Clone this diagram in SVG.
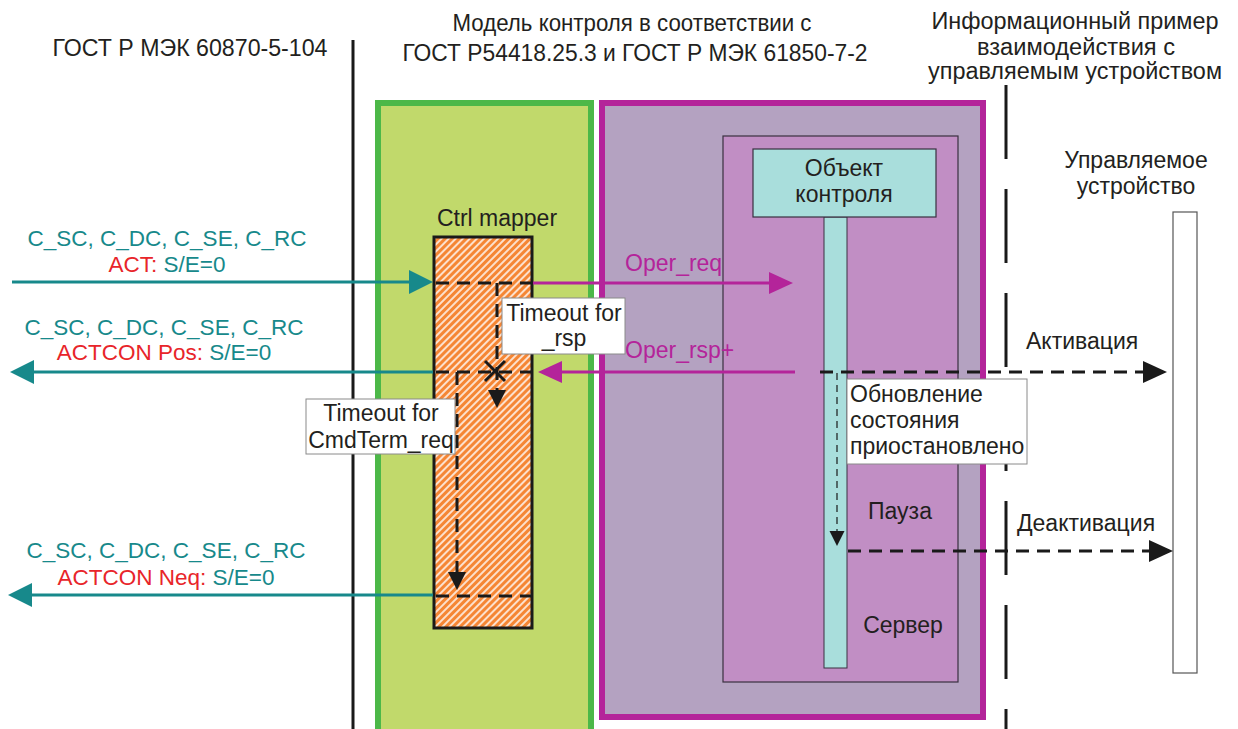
<svg xmlns="http://www.w3.org/2000/svg" width="1238" height="729" viewBox="0 0 1238 729">
<style>
text{font-family:"Liberation Sans",Arial,sans-serif;fill:#231f20}
.hdr{font-size:23px}
.lbl{font-size:23px}
.teal{fill:#17898b;font-size:22.5px}
.red{fill:#e8252a}
.mag{fill:#b4249a;font-size:23px}
.tl{stroke:#17898b;stroke-width:3;fill:none}
.ml{stroke:#b4249a;stroke-width:3;fill:none}
.dl{stroke:#1a1a1a;stroke-width:3;fill:none;stroke-dasharray:13 8}
.note{fill:#fff;stroke:#8a8a8a;stroke-width:1}
</style>
<defs>
<pattern id="hatch" width="5" height="5" patternUnits="userSpaceOnUse" patternTransform="rotate(45)">
<rect width="5" height="5" fill="#f58634"/>
<line x1="1" y1="0" x2="1" y2="5" stroke="#fff" stroke-width="1.5"/>
</pattern>
<marker id="aTeal" markerUnits="userSpaceOnUse" markerWidth="26" markerHeight="26" refX="20" refY="12" orient="auto"><path d="M0,0 L24,12 L0,24 z" fill="#17898b"/></marker>
<marker id="aMag" markerUnits="userSpaceOnUse" markerWidth="26" markerHeight="24" refX="20" refY="11" orient="auto"><path d="M0,0 L24,11 L0,22 z" fill="#b4249a"/></marker>
<marker id="aBlk" markerUnits="userSpaceOnUse" markerWidth="26" markerHeight="24" refX="20" refY="11" orient="auto"><path d="M0,0 L24,11 L0,22 z" fill="#1a1a1a"/></marker>
<marker id="aBlkS" markerUnits="userSpaceOnUse" markerWidth="20" markerHeight="20" refX="14" refY="9" orient="auto"><path d="M0,0 L18,9 L0,18 z" fill="#1a1a1a"/></marker>
<marker id="aBlkT" markerUnits="userSpaceOnUse" markerWidth="18" markerHeight="16" refX="12" refY="7.5" orient="auto"><path d="M0,0 L15,7.5 L0,15 z" fill="#1a1a1a"/></marker>
</defs>
<rect width="1238" height="729" fill="#fff"/>

<g id="headers">
<text class="hdr" x="190" y="56" text-anchor="middle" textLength="275" lengthAdjust="spacingAndGlyphs">ГОСТ Р МЭК 60870-5-104</text>
<text class="hdr" x="632" y="31" text-anchor="middle" textLength="359" lengthAdjust="spacingAndGlyphs">Модель контроля в соответствии с</text>
<text class="hdr" x="635" y="61" text-anchor="middle" textLength="465" lengthAdjust="spacingAndGlyphs">ГОСТ Р54418.25.3 и ГОСТ Р МЭК 61850-7-2</text>
<text class="hdr" x="1075" y="29" text-anchor="middle" textLength="287" lengthAdjust="spacingAndGlyphs">Информационный пример</text>
<text class="hdr" x="1076" y="55" text-anchor="middle" textLength="198" lengthAdjust="spacingAndGlyphs">взаимодействия с</text>
<text class="hdr" x="1075" y="79" text-anchor="middle" textLength="294" lengthAdjust="spacingAndGlyphs">управляемым устройством</text>
</g>

<g id="separators">
<line x1="353" y1="40" x2="353" y2="729" stroke="#1a1a1a" stroke-width="3"/>
<line x1="1006" y1="85" x2="1006" y2="729" stroke="#1a1a1a" stroke-width="3" stroke-dasharray="74 30"/>
</g>

<g id="green-area">
<rect x="378" y="103" width="213" height="640" fill="#c1d96b" stroke="#4cb848" stroke-width="6"/>
</g>
<g id="purple-area">
<rect x="602" y="103" width="381" height="614" fill="#b4a2c1" stroke="#b4249a" stroke-width="6"/>
</g>
<g id="server">
<rect x="723" y="136" width="235" height="546" fill="#c18ec4" stroke="#3a3040" stroke-width="1.2"/>
<text class="lbl" x="900" y="519" text-anchor="middle">Пауза</text>
<text class="lbl" x="903" y="633" text-anchor="middle">Сервер</text>
</g>
<g id="control-object">
<rect x="824" y="217" width="23" height="451" fill="#a9dedc" stroke="#3a3040" stroke-width="1"/>
<rect x="753" y="149" width="183" height="68" fill="#a9dedc" stroke="#3a3040" stroke-width="1.2"/>
<text class="lbl" x="844" y="176" text-anchor="middle">Объект</text>
<text class="lbl" x="844" y="202" text-anchor="middle">контроля</text>
</g>
<g id="ctrl-mapper">
<text class="lbl" x="497" y="226" text-anchor="middle">Ctrl mapper</text>
<rect x="434" y="237" width="98" height="391" fill="url(#hatch)" stroke="#1a1a1a" stroke-width="3"/>
</g>
<g id="device">
<text class="lbl" x="1136" y="168" text-anchor="middle">Управляемое</text>
<text class="lbl" x="1136" y="194" text-anchor="middle">устройство</text>
<rect x="1173" y="212" width="24" height="461" fill="#fff" stroke="#555" stroke-width="1.2"/>
</g>

<g id="connectors">
<line class="tl" x1="12" y1="282" x2="429" y2="282" marker-end="url(#aTeal)"/>
<line class="tl" x1="433" y1="372" x2="14" y2="372" marker-end="url(#aTeal)"/>
<line class="tl" x1="433" y1="595" x2="12" y2="595" marker-end="url(#aTeal)"/>
<line class="ml" x1="533" y1="283" x2="789" y2="283" marker-end="url(#aMag)"/>
<line class="ml" x1="795" y1="372" x2="542" y2="372" marker-end="url(#aMag)"/>
<path class="dl" d="M436,283 H532"/>
<path class="dl" d="M436,372 H532"/>
<path class="dl" d="M436,596 H532"/>
<path class="dl" d="M497,283 V404" marker-end="url(#aBlkS)"/>
<path class="dl" d="M457,372 V586" marker-end="url(#aBlkS)"/>
<path d="M485,361 L505,381 M505,361 L485,381" stroke="#1a1a1a" stroke-width="3"/>
<path class="dl" d="M820,372 H1163" stroke-dasharray="14 8" marker-end="url(#aBlk)"/>
<path class="dl" d="M848,551 H1169" stroke-dasharray="14 8" marker-end="url(#aBlk)"/>
<path d="M837,373 V543" stroke="#1a1a1a" stroke-width="1.2" stroke-dasharray="7 5" fill="none" marker-end="url(#aBlkT)"/>
</g>

<g id="labels">
<text class="teal" x="167" y="246" text-anchor="middle">C_SC, C_DC, C_SE, C_RC</text>
<text class="teal" x="167" y="272" text-anchor="middle"><tspan class="red">ACT:</tspan> S/E=0</text>
<text class="teal" x="164" y="335" text-anchor="middle">C_SC, C_DC, C_SE, C_RC</text>
<text class="teal" x="164" y="360" text-anchor="middle"><tspan class="red">ACTCON Pos:</tspan> S/E=0</text>
<text class="teal" x="166" y="558" text-anchor="middle">C_SC, C_DC, C_SE, C_RC</text>
<text class="teal" x="166" y="585" text-anchor="middle"><tspan class="red">ACTCON Neq:</tspan> S/E=0</text>
<text class="mag" x="625" y="271">Oper_req</text>
<text class="mag" x="625" y="358">Oper_rsp+</text>
<text class="lbl" x="1026" y="349">Активация</text>
<text class="lbl" x="1017" y="531">Деактивация</text>
</g>

<g id="note-rsp">
<rect class="note" x="502" y="298" width="123" height="56"/>
<text class="lbl" x="564" y="321" text-anchor="middle">Timeout for</text>
<text class="lbl" x="564" y="346" text-anchor="middle">_rsp</text>
</g>
<g id="note-cmdterm">
<rect class="note" x="306" y="399" width="149" height="55"/>
<text class="lbl" x="381" y="421" text-anchor="middle">Timeout for</text>
<text class="lbl" x="381" y="448" text-anchor="middle">CmdTerm_req</text>
</g>
<g id="note-update">
<rect class="note" x="847" y="379" width="180" height="85"/>
<text class="lbl" x="850" y="402">Обновление</text>
<text class="lbl" x="850" y="428">состояния</text>
<text class="lbl" x="850" y="454">приостановлено</text>
</g>
</svg>
